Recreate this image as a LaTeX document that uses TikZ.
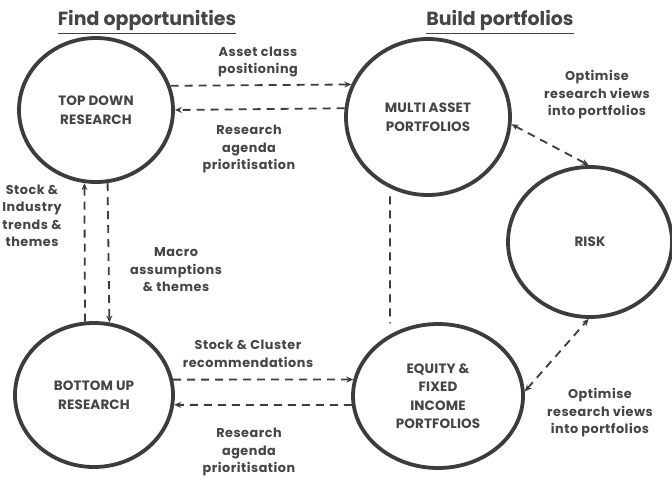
\documentclass[tikz,border=0pt]{standalone}
\usepackage{fontspec}
\setmainfont{Poppins}
\usetikzlibrary{shapes.geometric,arrows.meta}
\definecolor{ink}{HTML}{3C3C3C}
\definecolor{txt}{HTML}{454545}
\begin{document}
\begin{tikzpicture}[x=1pt,y=-1pt,
  circ/.style={ellipse,draw=ink,line width=3.8pt,inner sep=0pt,align=center,
    font=\fontsize{13.5}{18.5}\selectfont\bfseries\addfontfeatures{LetterSpace=1},text=txt},
  lbl/.style={align=center,font=\fontsize{12.8}{17.5}\selectfont\bfseries\addfontfeatures{LetterSpace=4},text=txt,inner sep=0pt},
  ttl/.style={font=\fontsize{19}{22}\selectfont\bfseries,text=txt,inner sep=0pt},
  uline/.style={draw=txt,line width=1.2pt},
  conn/.style={draw=ink,line width=1.8pt,dash pattern=on 8pt off 6pt},
  arr/.style={conn,-{Stealth[length=7pt,width=6pt]}},
  darr/.style={conn,{Stealth[length=7pt,width=6pt]}-{Stealth[length=7pt,width=6pt]}}]
\useasboundingbox[fill=white] (0,0) rectangle (672,477);
\node[circ,minimum width=154pt,minimum height=144pt] (td) at (96,110) {TOP DOWN\\RESEARCH};
\node[circ,minimum width=164pt,minimum height=156pt] (ma) at (428,117) {MULTI ASSET\\PORTFOLIOS};
\node[circ,minimum width=164pt,minimum height=150pt] (risk) at (590,242) {RISK};
\node[circ,minimum width=158pt,minimum height=144pt] (bu) at (94,395) {BOTTOM UP\\RESEARCH};
\node[circ,minimum width=170pt,minimum height=144pt] (eq) at (438,396) {EQUITY \&\\FIXED\\INCOME\\PORTFOLIOS};
% titles
\node[ttl] (t1) at (147,20) {Find opportunities};
\node[ttl] (t2) at (500,20) {Build portfolios};
\draw[uline] ([yshift=-3pt]t1.south west) -- ([yshift=-3pt]t1.south east);
\draw[uline] ([yshift=-3pt]t2.south west) -- ([yshift=-3pt]t2.south east);
% connectors
\draw[arr] (td.18) -- (ma.157.6);
\draw[arr] (ma.174.4) -- (td.0);
\draw[arr] (bu.97.2) -- (td.261.2);
\draw[arr] (td.279.6) -- (bu.78.8);
\draw[arr] (bu.11) -- (eq.169.1);
\draw[arr] (eq.186.1) -- (bu.-7.3);
\draw[conn,shorten <=8pt,shorten >=11pt] (ma.242) -- (eq.128);
\draw[darr] (ma.-5) -- (risk.91);
\draw[darr] (eq.3) -- (risk.269);
% labels
\node[lbl] (l1) at (258,62) {Asset class\\positioning};
\node[lbl] (l2) at (249,149) {Research\\agenda\\prioritisation};
\node[lbl] (l3) at (597,95) {Optimise\\research views\\into portfolios};
\node[lbl] (l4) at (32,216) {Stock \&\\Industry\\trends \&\\themes};
\node[lbl] (l5) at (176,270) {Macro\\assumptions\\\& themes};
\node[lbl] (l6) at (248,354) {Stock \& Cluster\\recommendations};
\node[lbl] (l7) at (249,452) {Research\\agenda\\prioritisation};
\node[lbl] (l8) at (600,413) {Optimise\\research views\\into portfolios};
\end{tikzpicture}
\end{document}
